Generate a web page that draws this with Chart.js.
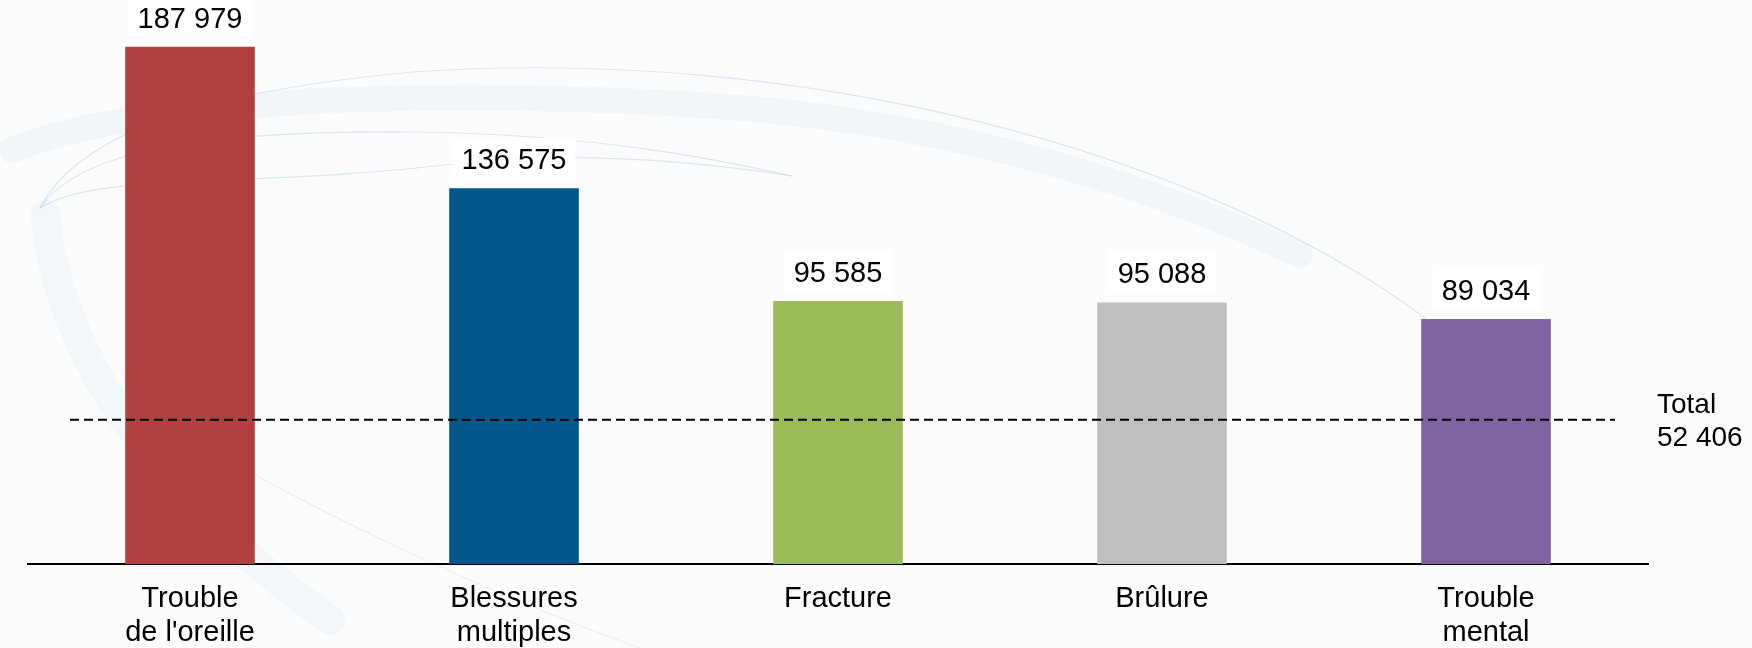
<!DOCTYPE html>
<html>
<head>
<meta charset="utf-8">
<script src="https://cdn.jsdelivr.net/npm/chart.js"></script>
<style>
  html, body { margin: 0; padding: 0; background: #fcfcfd; }
  #wrap { width: 1752px; height: 648px; }
</style>
</head>
<body>
<div id="wrap"><canvas id="chart" width="1752" height="648"></canvas></div>
<script>
// Data
const categories = [['Trouble', "de l'oreille"], ['Blessures', 'multiples'], ['Fracture'], ['Brûlure'], ['Trouble', 'mental']];
const values = [187979, 136575, 95585, 95088, 89034];
const barColors = ['#b04140', '#00588a', '#9bbb59', '#bfbfbf', '#8064a2'];
const totalValue = 52406;
const totalName = 'Total';

const FONT = 'Arial, "Liberation Sans", sans-serif';

function fmt(v) {
  return String(v).replace(/\B(?=(\d{3})+(?!\d))/g, ' ');
}

// Faint decorative swoosh behind the chart
const swooshBackground = {
  id: 'swooshBackground',
  beforeDraw(chart) {
    const ctx = chart.ctx;
    ctx.save();
    ctx.fillStyle = '#fcfcfd';
    ctx.fillRect(0, 0, chart.width, chart.height);
    ctx.lineCap = 'round';

    // wide soft bands
    ctx.strokeStyle = 'rgba(215,226,238,0.22)';
    ctx.lineWidth = 26;
    ctx.beginPath();
    ctx.moveTo(12, 150);
    ctx.bezierCurveTo(150, 95, 450, 90, 700, 105);
    ctx.bezierCurveTo(950, 120, 1150, 185, 1300, 255);
    ctx.stroke();

    ctx.lineWidth = 30;
    ctx.strokeStyle = 'rgba(220,230,240,0.22)';
    ctx.beginPath();
    ctx.moveTo(45, 215);
    ctx.bezierCurveTo(60, 360, 160, 500, 330, 620);
    ctx.stroke();

    // thin lines
    ctx.lineWidth = 1.2;
    ctx.strokeStyle = 'rgba(170,196,220,0.4)';
    ctx.beginPath();
    ctx.moveTo(40, 208);
    ctx.bezierCurveTo(70, 150, 160, 95, 413, 72);
    ctx.bezierCurveTo(800, 45, 1200, 150, 1425, 318);
    ctx.stroke();

    ctx.beginPath();
    ctx.moveTo(40, 208);
    ctx.bezierCurveTo(80, 150, 200, 130, 420, 132);
    ctx.bezierCurveTo(600, 135, 720, 160, 792, 176);
    ctx.stroke();

    ctx.beginPath();
    ctx.moveTo(40, 208);
    ctx.bezierCurveTo(100, 170, 250, 190, 470, 162);
    ctx.bezierCurveTo(600, 150, 720, 165, 792, 176);
    ctx.stroke();

    ctx.strokeStyle = 'rgba(190,208,228,0.3)';
    ctx.beginPath();
    ctx.moveTo(130, 400);
    ctx.bezierCurveTo(250, 480, 450, 580, 640, 648);
    ctx.stroke();
    ctx.restore();
  }
};

// Value labels above bars, on white boxes
const valueLabels = {
  id: 'valueLabels',
  afterDatasetsDraw(chart) {
    const ctx = chart.ctx;
    const meta = chart.getDatasetMeta(0);
    ctx.save();
    ctx.font = '29px ' + FONT;
    ctx.textAlign = 'center';
    ctx.textBaseline = 'middle';
    meta.data.forEach((bar, i) => {
      const text = fmt(values[i]);
      const w = ctx.measureText(text).width;
      const cy = bar.y - 27;
      ctx.fillStyle = '#ffffff';
      ctx.fillRect(bar.x - w / 2 - 9, bar.y - 50, w + 18, 41);
      ctx.fillStyle = '#000000';
      ctx.fillText(text, bar.x, cy);
    });
    ctx.restore();
  }
};

// Dashed total line with its label on the right
const totalLine = {
  id: 'totalLine',
  afterDatasetsDraw(chart) {
    const ctx = chart.ctx;
    const area = chart.chartArea;
    const y = chart.scales.y.getPixelForValue(totalValue);
    ctx.save();
    ctx.strokeStyle = '#000000';
    ctx.lineWidth = 2;
    ctx.setLineDash([9, 5]);
    ctx.beginPath();
    ctx.moveTo(area.left + 42, y);
    ctx.lineTo(area.right - 33, y);
    ctx.stroke();
    ctx.setLineDash([]);
    ctx.fillStyle = '#000000';
    ctx.font = '28px ' + FONT;
    ctx.textAlign = 'left';
    ctx.textBaseline = 'middle';
    ctx.fillText(totalName, area.right + 9, y - 15);
    ctx.fillText(fmt(totalValue), area.right + 9, y + 18);
    ctx.restore();
  }
};

new Chart(document.getElementById('chart'), {
  type: 'bar',
  data: {
    labels: categories,
    datasets: [{
      data: values,
      backgroundColor: barColors,
      borderWidth: 0,
      barPercentage: 0.4,
      categoryPercentage: 1
    }]
  },
  options: {
    responsive: false,
    animation: false,
    devicePixelRatio: 1,
    layout: { padding: { left: 28, right: 104, top: 0, bottom: 0 } },
    plugins: {
      legend: { display: false },
      tooltip: { enabled: false }
    },
    scales: {
      x: {
        grid: { display: false, drawTicks: false },
        border: { display: true, color: '#000000', width: 2 },
        ticks: {
          color: '#000000',
          font: { family: FONT, size: 29, lineHeight: 1.18 },
          padding: 18,
          autoSkip: false,
          maxRotation: 0
        },
        afterFit(scale) { scale.height = 84; }
      },
      y: {
        display: false,
        min: 0,
        max: 205000
      }
    }
  },
  plugins: [swooshBackground, totalLine, valueLabels]
});
</script>
</body>
</html>
